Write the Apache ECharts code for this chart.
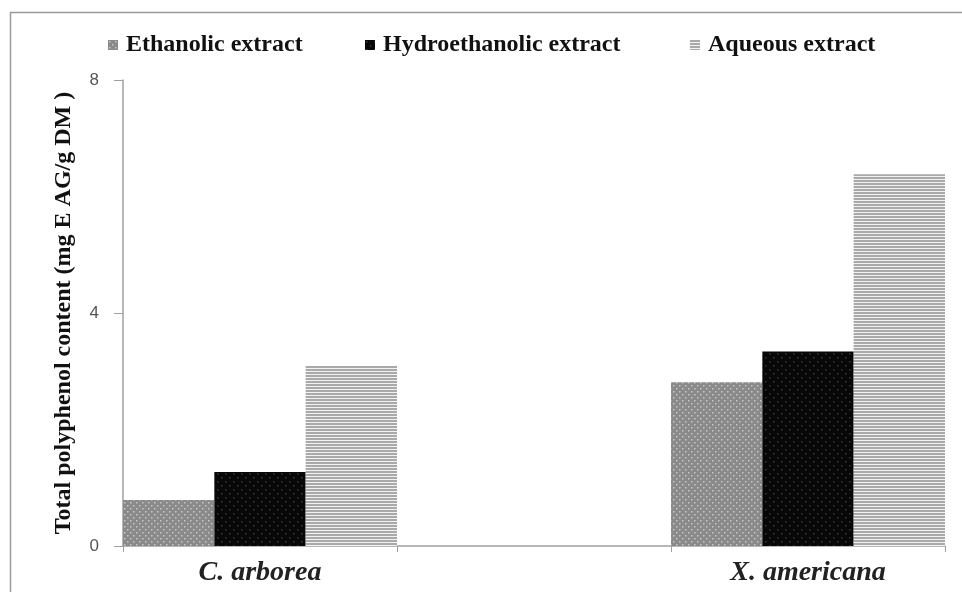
<!DOCTYPE html>
<html>
<head>
<meta charset="utf-8">
<script src="https://cdn.jsdelivr.net/npm/echarts@6/dist/echarts.min.js"></script>
<style>
html,body{margin:0;padding:0;background:#fff;}
#main{width:962px;height:592px;}
</style>
</head>
<body>
<div id="main"></div>
<script>
// ---- data ----
const species = ['C. arborea', 'X. americana'];
const seriesNames = ['Ethanolic extract', 'Hydroethanolic extract', 'Aqueous extract'];
const ethanolic = [0.79, 2.81];
const hydroethanolic = [1.27, 3.34];
const aqueous = [3.09, 6.38];
const yTicks = [0, 4, 8];
const yAxisTitle = 'Total polyphenol content (mg E AG/g DM )';

// ---- patterns ----
function makePattern(w, h, draw) {
  const c = document.createElement('canvas');
  c.width = w; c.height = h;
  draw(c.getContext('2d'));
  return { image: c, repeat: 'repeat' };
}
const dotGray = makePattern(6, 6, g => {
  g.fillStyle = '#8a8a8a'; g.fillRect(0, 0, 6, 6);
  g.fillStyle = '#c6c6c6';
  g.fillRect(1, 1, 1.5, 1.5); g.fillRect(4, 4, 1.5, 1.5);
});
const dotBlack = makePattern(8, 8, g => {
  g.fillStyle = '#070707'; g.fillRect(0, 0, 8, 8);
  g.fillStyle = '#3a3a3a';
  g.fillRect(1, 1, 1.5, 1.5); g.fillRect(5, 5, 1.5, 1.5);
});
const stripes = makePattern(4, 3, g => {
  g.fillStyle = '#a9a9a9'; g.fillRect(0, 0, 4, 3);
  g.fillStyle = '#f2f2f2'; g.fillRect(0, 2, 4, 1);
});

// layout helper: an empty middle category separates the two species
const axisCats = [species[0], '', species[1]];
const spread = arr => [arr[0], '-', arr[1]];

const legendLefts = [103, 360, 685];
const legendText = { fontFamily: 'Liberation Serif', fontWeight: 'bold', fontSize: 24, color: '#111', padding: [0, 0, 0, 3] };

const chart = echarts.init(document.getElementById('main'), null, { renderer: 'canvas' });
chart.setOption({
  backgroundColor: '#fff',
  animation: false,
  graphic: [{
    type: 'rect',
    left: 8, top: 10,
    shape: { width: 1000, height: 700 },
    style: { fill: 'none', stroke: '#9a9a9a', lineWidth: 1.5 },
    silent: true, z: -1
  }],
  legend: seriesNames.map((n, i) => ({
    top: 28, left: legendLefts[i],
    icon: 'rect',
    itemWidth: 10, itemHeight: 10,
    textStyle: legendText,
    data: [n]
  })),
  grid: { left: 123, right: 17, top: 80, bottom: 46 },
  xAxis: {
    type: 'category',
    data: axisCats,
    axisLine: { lineStyle: { color: '#a0a0a0', width: 1.5 } },
    axisTick: { show: true, interval: 0, length: 6, lineStyle: { color: '#a0a0a0' } },
    axisLabel: { interval: 0, margin: 13, fontFamily: 'Liberation Serif', fontStyle: 'italic', fontWeight: 'bold', fontSize: 28, color: '#222' }
  },
  yAxis: {
    type: 'value',
    min: yTicks[0], max: yTicks[yTicks.length - 1], interval: yTicks[1] - yTicks[0],
    name: yAxisTitle,
    nameLocation: 'middle',
    nameGap: 47,
    nameRotate: 90,
    nameTextStyle: { fontFamily: 'Liberation Serif', fontWeight: 'bold', fontSize: 24, color: '#111' },
    axisLine: { show: true, lineStyle: { color: '#a0a0a0', width: 1.5 } },
    axisTick: { show: true, length: 9, lineStyle: { color: '#a0a0a0' } },
    splitLine: { show: false },
    axisLabel: { margin: 24, fontFamily: 'Liberation Sans', fontSize: 17, color: '#555' }
  },
  series: [
    { name: seriesNames[0], type: 'bar', data: spread(ethanolic), itemStyle: { color: dotGray }, barGap: '0%', barCategoryGap: '0%' },
    { name: seriesNames[1], type: 'bar', data: spread(hydroethanolic), itemStyle: { color: dotBlack }, barGap: '0%', barCategoryGap: '0%' },
    { name: seriesNames[2], type: 'bar', data: spread(aqueous), itemStyle: { color: stripes }, barGap: '0%', barCategoryGap: '0%' }
  ]
});
</script>
</body>
</html>
